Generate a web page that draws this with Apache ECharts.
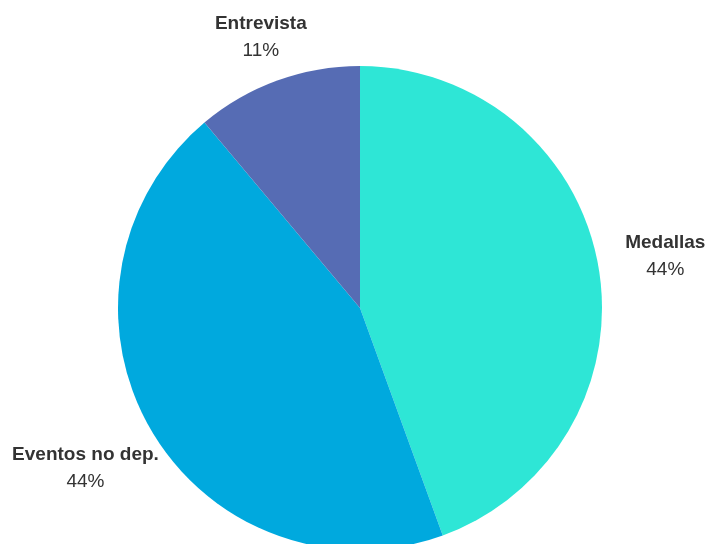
<!DOCTYPE html>
<html>
<head>
<meta charset="utf-8">
<script src="https://cdn.jsdelivr.net/npm/echarts@6/dist/echarts.min.js"></script>
<style>html,body{margin:0;padding:0;background:#fff;}#c{width:708px;height:544px;}</style>
</head>
<body>
<div id="c"></div>
<script>
var categories = ['Medallas', 'Eventos no dep.', 'Entrevista'];
var values = [4, 4, 1];
var colors = ['#2ee6d6', '#00a9de', '#566cb4'];
var labelDistance = [310, 317, 290];

var CX = 360, CY = 308, R = 242;
var total = values.reduce(function (a, b) { return a + b; }, 0);
function midAngle(i) {
  var acc = 0;
  for (var k = 0; k < i; k++) acc += values[k];
  return (acc + values[i] / 2) / total * 2 * Math.PI;
}

var chart = echarts.init(document.getElementById('c'));
chart.setOption({
  animation: false,
  series: [{
    type: 'pie',
    center: [CX, CY],
    radius: R,
    startAngle: 90,
    clockwise: true,
    data: categories.map(function (n, i) {
      return { name: n, value: values[i], itemStyle: { color: colors[i] } };
    }),
    itemStyle: { borderWidth: 0 },
    label: {
      show: true,
      position: 'outside',
      overflow: 'none',
      formatter: function (p) { return '{b|' + p.name + '}\n{c|' + Math.round(p.percent) + '%}'; },
      rich: {
        b: { fontFamily: 'Liberation Sans, Arial, sans-serif', fontSize: 19, fontWeight: 'bold', color: '#333', lineHeight: 27, align: 'center' },
        c: { fontFamily: 'Liberation Sans, Arial, sans-serif', fontSize: 19, color: '#333', lineHeight: 27, align: 'center' }
      }
    },
    labelLine: { show: false },
    labelLayout: function (p) {
      var a = midAngle(p.dataIndex);
      var d = labelDistance[p.dataIndex];
      return {
        x: CX + Math.sin(a) * d,
        y: CY - Math.cos(a) * d + 2,
        align: 'center',
        verticalAlign: 'middle'
      };
    }
  }]
});
</script>
</body>
</html>
